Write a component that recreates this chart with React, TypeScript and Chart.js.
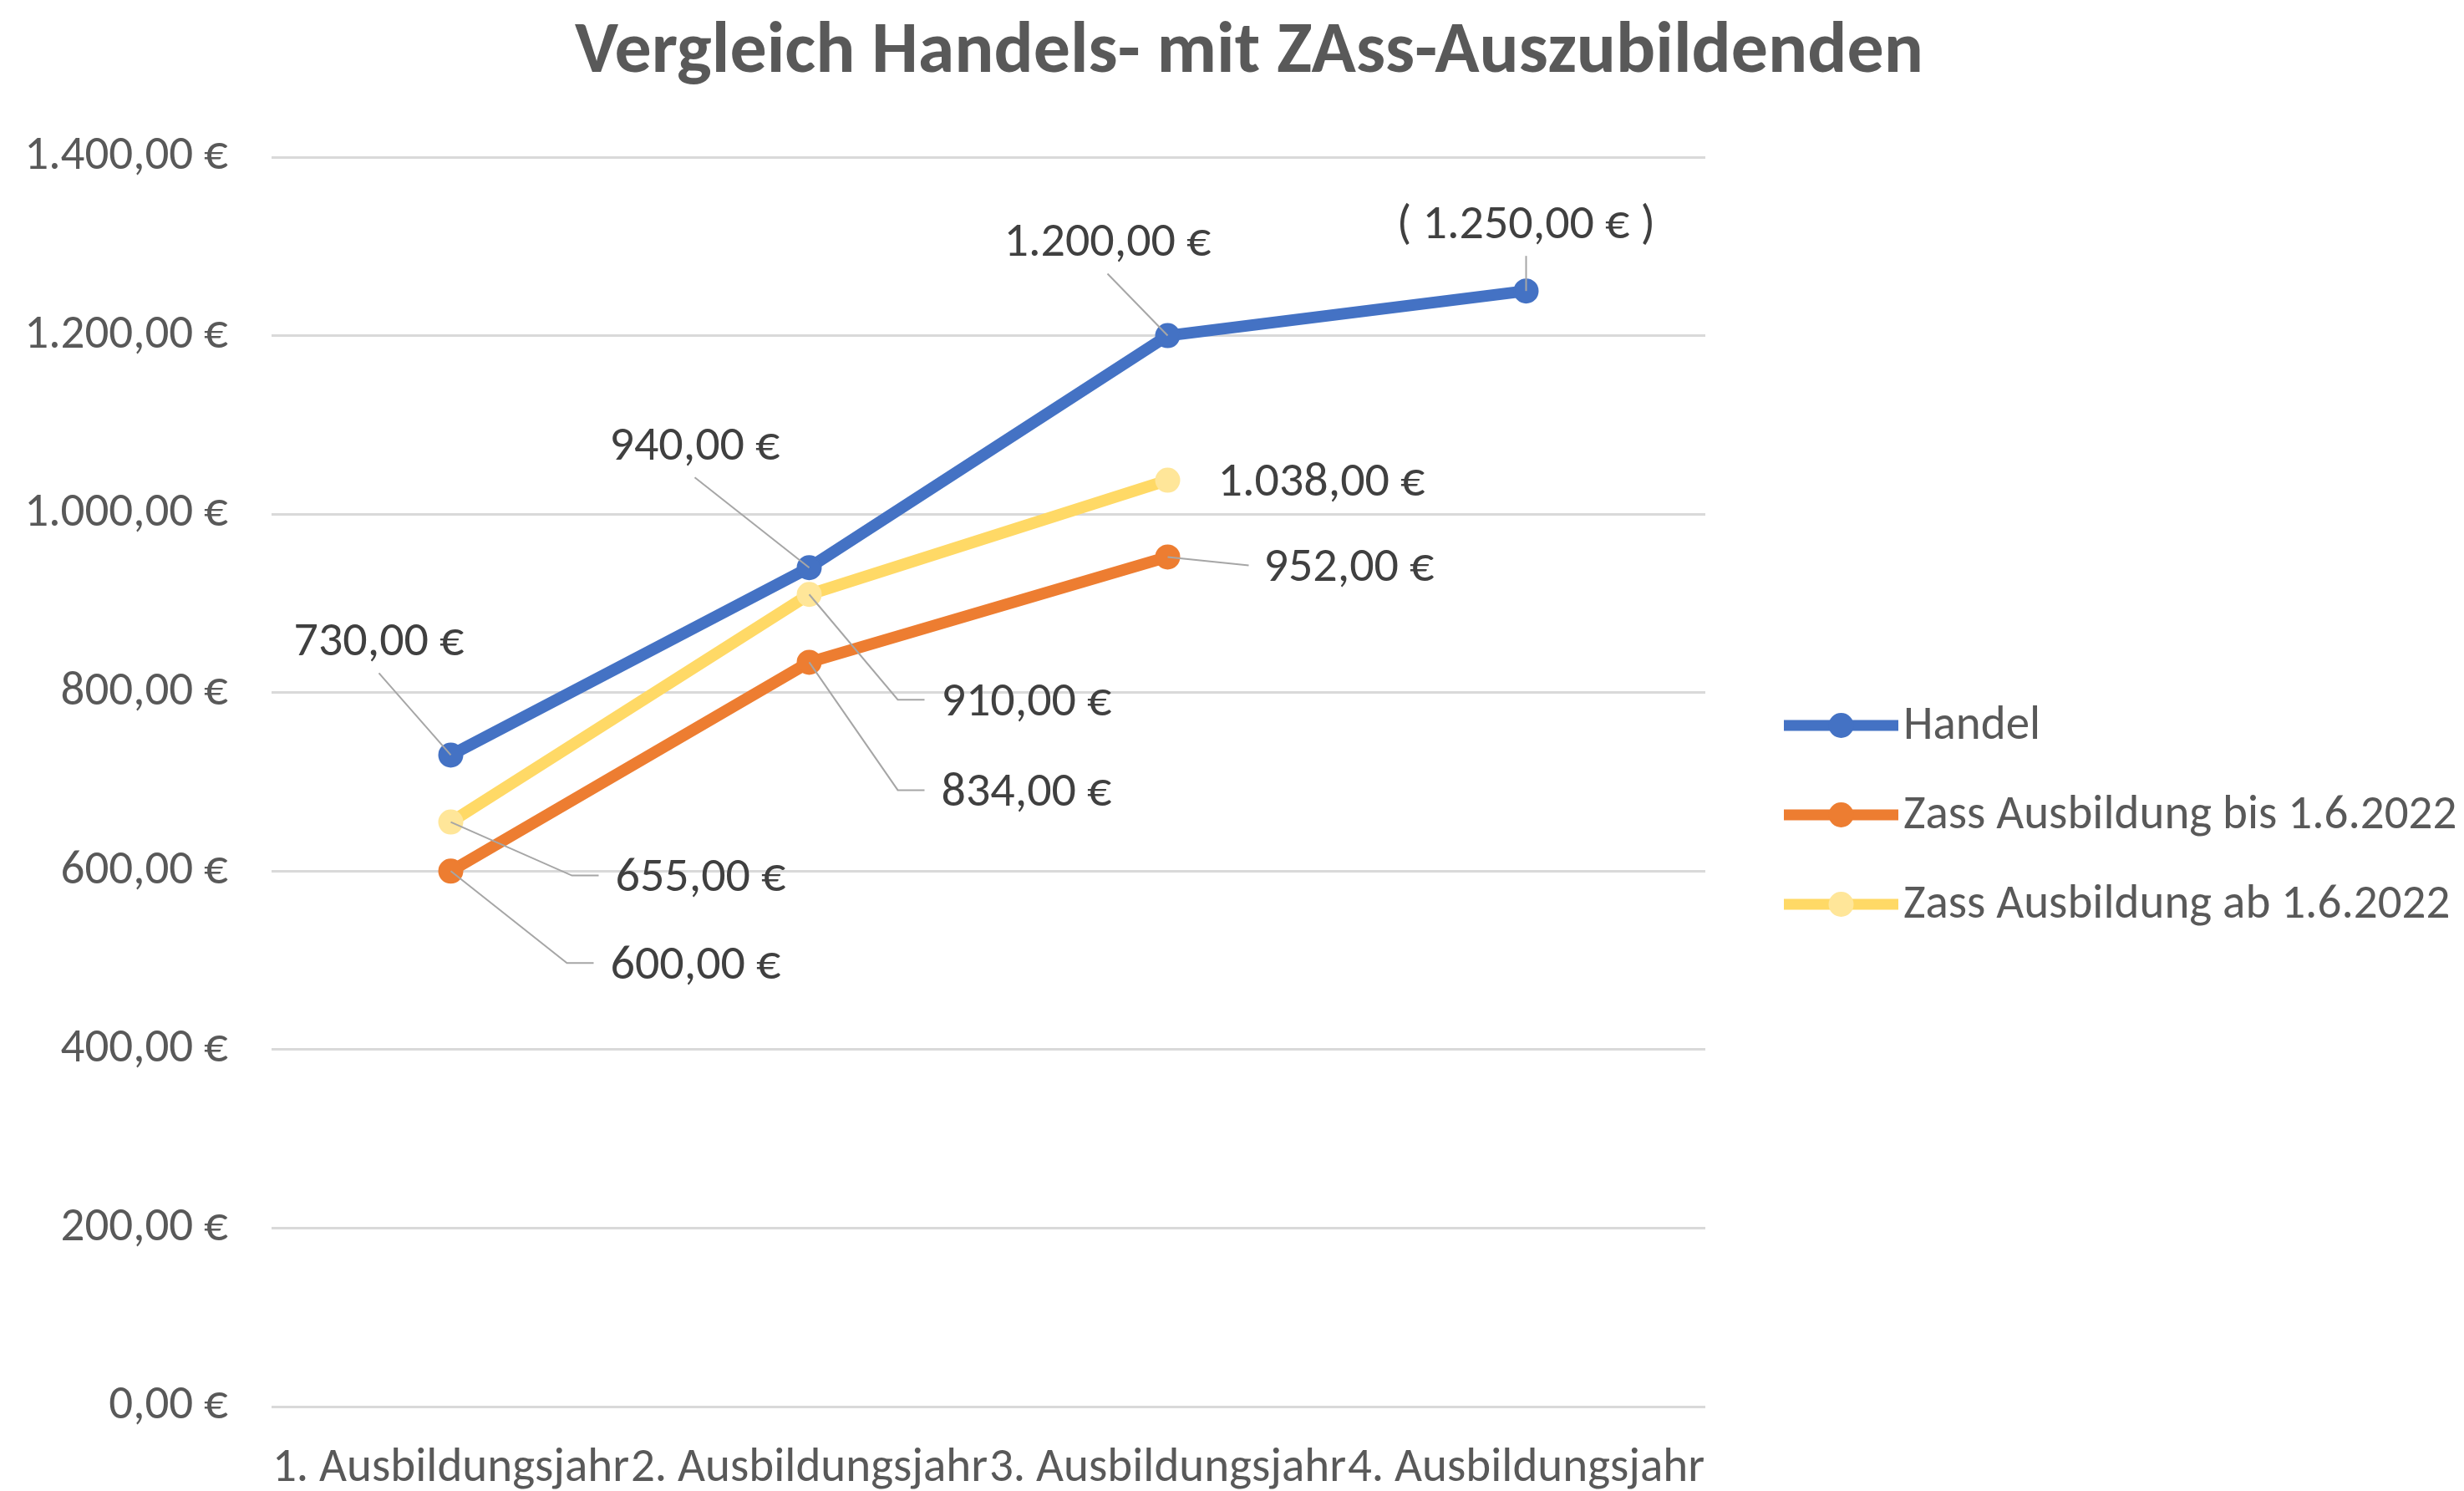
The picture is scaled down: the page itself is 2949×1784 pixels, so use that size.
import React, { useEffect, useRef } from 'react';
import { Chart, registerables } from 'chart.js';

Chart.register(...registerables);

// ---------- data ----------
const chartTitle = 'Vergleich Handels- mit ZAss-Auszubildenden';
const categories = ['1. Ausbildungsjahr', '2. Ausbildungsjahr', '3. Ausbildungsjahr', '4. Ausbildungsjahr'];
const seriesNames = ['Handel', 'Zass Ausbildung bis 1.6.2022', 'Zass Ausbildung ab 1.6.2022'];
const handelValues = [730, 940, 1200, 1250];
const zassBisValues = [600, 834, 952, null];
const zassAbValues = [655, 910, 1038, null];
const handelBracketed = [false, false, false, true];
const yMin = 0;
const yMax = 1400;
const yStep = 200;

// ---------- styles ----------
const FONT = "Carlito, 'Liberation Sans', Arial, sans-serif";
const lineColors = ['#4472C4', '#ED7D31', '#FFD966'];
const markerColors = ['#4472C4', '#ED7D31', '#FFE699'];
const W = 2949;
const H = 1784;

type Place = { kind: 'above' | 'elbow' | 'side' | 'plain'; dx: number; dy: number };
// label offsets relative to the data point (pixels)
const labelPlacement: Place[][] = [
  [
    { kind: 'above', dx: -86, dy: -138 },
    { kind: 'above', dx: -137, dy: -148 },
    { kind: 'above', dx: -72, dy: -114 },
    { kind: 'above', dx: 0, dy: -82 },
  ],
  [
    { kind: 'elbow', dx: 191, dy: 110 },
    { kind: 'elbow', dx: 158, dy: 153 },
    { kind: 'side', dx: 115, dy: 10 },
  ],
  [
    { kind: 'elbow', dx: 197, dy: 64 },
    { kind: 'elbow', dx: 158, dy: 126 },
    { kind: 'plain', dx: 60, dy: 0 },
  ],
];

function formatEuro(v: number): string {
  const neg = v < 0;
  const abs = Math.abs(v);
  const intPart = Math.floor(abs);
  const dec = Math.round((abs - intPart) * 100);
  const intStr = String(intPart).replace(/\B(?=(\d{3})+(?!\d))/g, '.');
  return (neg ? '-' : '') + intStr + ',' + String(dec).padStart(2, '0') + ' €';
}

const titlePlugin = {
  id: 'customTitle',
  afterDraw(chart: any) {
    const ctx = chart.ctx;
    ctx.save();
    ctx.font = `bold 88px ${FONT}`;
    ctx.fillStyle = '#595959';
    ctx.textAlign = 'center';
    ctx.textBaseline = 'alphabetic';
    ctx.fillText(chartTitle, 1495, 86);
    ctx.restore();
  },
};

const dataLabelPlugin = {
  id: 'dataLabels',
  afterDatasetsDraw(chart: any) {
    const ctx = chart.ctx;
    ctx.save();
    ctx.font = `58px ${FONT}`;
    chart.data.datasets.forEach((ds: any, di: number) => {
      const meta = chart.getDatasetMeta(di);
      meta.data.forEach((pt: any, i: number) => {
        const v = ds.data[i];
        if (v == null) return;
        const place = labelPlacement[di][i];
        let text = formatEuro(v);
        if (di === 0 && handelBracketed[i]) text = `( ${text} )`;
        const w = ctx.measureText(text).width;
        const px = pt.x;
        const py = pt.y;
        const cy = py + place.dy;
        let left: number;
        let cx: number;
        if (place.kind === 'above') {
          cx = px + place.dx;
          left = cx - w / 2;
        } else {
          left = px + place.dx;
          cx = left + w / 2;
        }
        ctx.strokeStyle = '#A6A6A6';
        ctx.lineWidth = 2;
        ctx.beginPath();
        if (place.kind === 'above') {
          ctx.moveTo(cx, cy + 40);
          ctx.lineTo(px, py);
          ctx.stroke();
        } else if (place.kind === 'elbow') {
          ctx.moveTo(px, py);
          ctx.lineTo(left - 52, cy);
          ctx.lineTo(left - 20, cy);
          ctx.stroke();
        } else if (place.kind === 'side') {
          ctx.moveTo(px, py);
          ctx.lineTo(left - 18, cy);
          ctx.stroke();
        }
        ctx.fillStyle = '#404040';
        ctx.textAlign = 'left';
        ctx.textBaseline = 'middle';
        ctx.fillText(text, left, cy + 4);
      });
    });
    ctx.restore();
  },
};

const legendPlugin = {
  id: 'customLegend',
  afterDraw(chart: any) {
    const ctx = chart.ctx;
    ctx.save();
    const x0 = 2135;
    const x1 = 2272;
    const y0 = 868;
    const gap = 107;
    seriesNames.forEach((name, i) => {
      const y = y0 + i * gap;
      ctx.strokeStyle = lineColors[i];
      ctx.lineWidth = 13;
      ctx.lineCap = 'butt';
      ctx.beginPath();
      ctx.moveTo(x0, y);
      ctx.lineTo(x1, y);
      ctx.stroke();
      ctx.fillStyle = markerColors[i];
      ctx.beginPath();
      ctx.arc((x0 + x1) / 2, y, 15, 0, Math.PI * 2);
      ctx.fill();
      ctx.fillStyle = '#595959';
      ctx.font = `57px ${FONT}`;
      ctx.textAlign = 'left';
      ctx.textBaseline = 'middle';
      ctx.fillText(name, x1 + 6, y + 2);
    });
    ctx.restore();
  },
};

function makeDataset(idx: number, data: (number | null)[], order: number) {
  return {
    label: seriesNames[idx],
    data,
    borderColor: lineColors[idx],
    backgroundColor: markerColors[idx],
    pointBackgroundColor: markerColors[idx],
    pointBorderColor: markerColors[idx],
    borderWidth: 14,
    pointRadius: 14,
    pointBorderWidth: 2,
    pointHoverRadius: 14,
    tension: 0,
    spanGaps: false,
    borderCapStyle: 'round' as const,
    borderJoinStyle: 'round' as const,
    order,
  };
}

export default function App() {
  const canvasRef = useRef<HTMLCanvasElement | null>(null);

  useEffect(() => {
    document.body.style.margin = '0';
    document.body.style.overflow = 'hidden';
    const canvas = canvasRef.current;
    if (!canvas) return;
    const chart = new Chart(canvas, {
      type: 'line',
      data: {
        labels: categories,
        datasets: [
          makeDataset(0, handelValues, 3),
          makeDataset(1, zassBisValues, 2),
          makeDataset(2, zassAbValues, 1),
        ],
      },
      options: {
        animation: false,
        responsive: false,
        devicePixelRatio: 1,
        layout: { padding: { top: 188, right: 908, bottom: 0, left: 0 } },
        plugins: {
          legend: { display: false },
          title: { display: false },
          tooltip: { enabled: false },
        },
        scales: {
          x: {
            type: 'category',
            offset: true,
            grid: { display: false, drawTicks: false },
            border: { display: false },
            ticks: {
              color: '#595959',
              font: { family: FONT, size: 57 },
              padding: 41,
              maxRotation: 0,
              minRotation: 0,
              autoSkip: false,
            },
            afterFit: (s: any) => {
              s.height = 101;
            },
          },
          y: {
            min: yMin,
            max: yMax,
            ticks: {
              stepSize: yStep,
              color: '#595959',
              font: { family: FONT, size: 57 },
              padding: 52,
              callback: (v: any) => formatEuro(Number(v)),
            },
            grid: { color: '#D9D9D9', lineWidth: 3, drawTicks: false },
            border: { display: false },
            afterFit: (s: any) => {
              s.width = 325;
            },
          },
        },
      } as any,
      plugins: [titlePlugin, dataLabelPlugin, legendPlugin],
    });
    return () => chart.destroy();
  }, []);

  return (
    <div style={{ width: W, height: H, background: '#fff' }}>
      <canvas ref={canvasRef} width={W} height={H} style={{ display: 'block', width: W, height: H }} />
    </div>
  );
}
